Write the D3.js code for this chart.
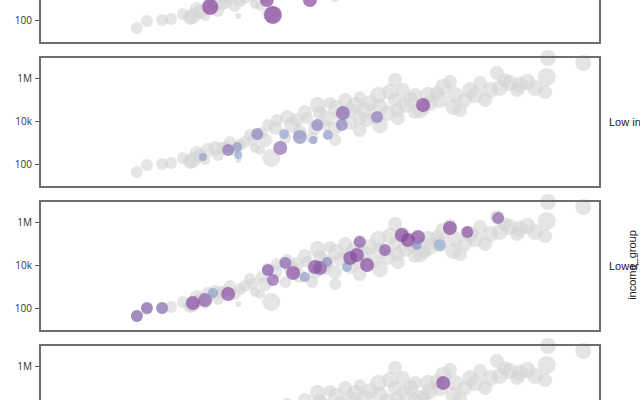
<!DOCTYPE html>
<html>
<head>
<meta charset="utf-8">
<script src="https://cdn.jsdelivr.net/npm/d3@7"></script>
<style>
  body { margin: 0; background: #fff; }
  svg { display: block; }
</style>
</head>
<body>
<div id="chart"></div>
<script>
// facet names (one panel per income group)
var groups = ["High income", "Low income", "Lower middle income", "Upper middle income"];

// all countries, drawn grey in every panel
var greyX = [17.3, 19.1, 21.8, 23.4, 27.3, 28.0, 28.6, 30.0, 31.3, 32.5, 33.2, 35.4, 36.6, 38.0, 39.6, 40.7, 41.3,
             42.3, 44.1, 45.9, 47.7, 50.0, 51.8, 53.6, 55.4, 55.4, 57.1, 58.4, 58.9, 60.7, 62.0, 63.8, 64.8, 66.1,
             67.9, 69.6, 70.9, 72.0, 73.2, 73.8, 75.0, 76.8, 78.6, 80.4, 81.6, 83.0, 83.9, 85.2, 87.0, 90.5, 90.7,
             97.0, 43.8, 46.4, 49.1, 50.9, 52.7, 57.1, 59.8, 63.4, 67.0, 68.8, 38.4, 34.8, 26.8, 29.5,
             40.2, 42.0, 45.0, 47.3, 49.6, 51.1, 52.9, 54.5, 56.3, 58.0, 60.4, 62.5, 63.9, 65.2, 67.0, 69.3,
             71.4, 74.1, 75.9, 77.7, 79.5, 82.1, 85.7, 88.4, 90.2, 37.5, 35.7, 33.9, 31.8, 25.5, 63.4, 60.7,
             57.1, 52.7, 48.6, 39.3];
var greyY = [42, 90, 100, 111, 153, 325, 236, 448, 555, 555, 618, 153, 1050, 1300, 2770, 6520, 190,
             11100, 15300, 11100, 13800, 23500, 68700, 19000, 32500, 8070, 131000, 11100, 68700, 44800, 23500, 32500, 277000, 94800,
             32500, 68700, 200000, 381000, 652000, 44800, 32500, 277000, 585000, 277000, 1710000, 807000, 585000, 277000, 652000, 1110000, 8510000,
             4990000, 1620, 3080, 4720, 6520, 4720, 13800, 13800, 94800, 162000, 40200, 555, 448, 124, 153,
             1300, 4720, 6520, 26300, 55500, 13800, 40200, 94800, 55500, 32500, 162000, 223000, 13800, 55500, 26300, 162000,
             94800, 162000, 94800, 162000, 94800, 343000, 472000, 343000, 223000, 2230, 766, 1050, 262, 190, 807000, 6520,
             3810, 1300, 1620, 448];
var greySize = [36, 36, 36, 36, 64, 49, 49, 49, 49, 36, 36, 9, 36, 36, 36, 36, 81,
                36, 49, 49, 36, 49, 36, 49, 49, 49, 36, 49, 64, 64, 64, 49, 49, 64,
                64, 64, 49, 64, 49, 64, 49, 64, 49, 64, 49, 49, 64, 49, 64, 81, 64,
                64, 36, 49, 49, 36, 49, 49, 36, 49, 49, 36, 25, 36, 49, 25,
                49, 49, 64, 49, 64, 64, 64, 49, 64, 64, 64, 64, 49, 64, 49, 64,
                64, 64, 49, 64, 49, 64, 64, 64, 49, 36, 36, 36, 36, 36, 49, 64,
                49, 36, 36, 25];

// highlighted countries per group
var highX = [30.4, 41.6, 40.5, 48.2];
var highY = [403, 171, 851, 851];
var highSize = [64, 81, 49, 49];
var highShade = [85, 85, 80, 80];

var lowX = [33.6, 35.2, 29.1, 35.4, 38.8, 42.9, 43.6, 46.4, 48.8, 49.5, 51.4, 53.9, 54.1, 60.2, 68.4];
var lowY = [448, 618, 212, 262, 2480, 555, 2480, 1800, 1300, 6520, 2230, 6520, 23500, 15300, 55500];
var lowSize = [36, 25, 16, 16, 36, 49, 25, 49, 16, 36, 25, 36, 49, 36, 49];
var lowShade = [55, 25, 20, 15, 40, 55, 15, 35, 20, 40, 25, 40, 60, 45, 80];

var lowerX = [17.3, 19.1, 21.8, 27.3, 29.5, 30.9, 33.6, 40.7, 41.6, 43.8, 45.2, 47.3, 49.1, 50.0, 51.3,
              54.8, 55.4, 56.6, 57.1, 58.4, 61.6, 64.6, 65.7, 67.5, 67.3, 71.4, 73.2, 76.3, 81.8];
var lowerY = [42, 100, 100, 171, 236, 499, 448, 5850, 2000, 12400, 4250, 2770, 8070, 7240, 13800,
              8070, 21200, 29200, 117000, 10000, 49900, 248000, 146000, 200000, 85100, 85100, 526000, 343000, 1530000];
var lowerSize = [36, 36, 36, 49, 49, 25, 49, 36, 36, 36, 49, 25, 49, 49, 25,
                 25, 49, 49, 36, 49, 36, 49, 49, 49, 25, 36, 49, 36, 36];
var lowerShade = [60, 60, 50, 75, 65, 20, 75, 70, 65, 60, 75, 20, 75, 70, 35,
                  15, 80, 75, 65, 75, 70, 80, 80, 75, 35, 10, 80, 75, 60];

var upperX = [72.0];
var upperY = [162000];
var upperSize = [49];
var upperShade = [80];

var highlight = [
    {x: highX, y: highY, size: highSize, shade: highShade},
    {x: lowX, y: lowY, size: lowSize, shade: lowShade},
    {x: lowerX, y: lowerY, size: lowerSize, shade: lowerShade},
    {x: upperX, y: upperY, size: upperSize, shade: upperShade}
];

var width = 640;
var height = 400;
var panelLeft = 40;
var panelRight = 600;
var panelHeight = 130;
var panelGap = 14;
var firstTop = -87;

var svg = d3.select("#chart")
    .append("svg")
    .attr("width", width)
    .attr("height", height);

var x = d3.scaleLinear()
    .domain([0, 100])
    .range([panelLeft, panelRight]);

var y = d3.scaleLog()
    .domain([8.51, 9.48e6])
    .range([panelHeight, 0]);

var r = d3.scaleSqrt()
    .domain([0, 100])
    .range([0, 10]);

var shadeScale = d3.scaleSequential(d3.interpolateBuPu)
    .domain([-89, 143]);

var tickFormat = function (d) {
    if (d >= 1e6) return (d / 1e6) + "M";
    if (d >= 1e3) return (d / 1e3) + "k";
    return d;
};

var greyData = greyX.map(function (v, i) {
    return {x: v, y: greyY[i], size: greySize[i]};
});

groups.forEach(function (name, gi) {
    var top = firstTop + gi * (panelHeight + panelGap);
    var g = svg.append("g")
        .attr("transform", "translate(0," + top + ")");

    // y axis with log ticks 100, 10k, 1M
    var axis = d3.axisLeft(y)
        .tickValues([100, 1e4, 1e6])
        .tickFormat(tickFormat)
        .tickSize(5)
        .tickPadding(3);

    var ax = g.append("g")
        .attr("transform", "translate(" + panelLeft + ",0)")
        .call(axis);
    ax.select(".domain").remove();
    ax.selectAll("line").attr("stroke", "#555");
    ax.selectAll("text")
        .attr("fill", "#333")
        .style("font-family", "'Open Sans', sans-serif")
        .style("font-size", "10px");

    // grey background points (every country)
    g.append("g")
        .selectAll("circle")
        .data(greyData)
        .enter()
        .append("circle")
        .attr("cx", function (d) { return x(d.x); })
        .attr("cy", function (d) { return y(d.y); })
        .attr("r", function (d) { return r(d.size); })
        .attr("fill", "#d3d3d3")
        .attr("fill-opacity", 0.6);

    // coloured points of this group
    var h = highlight[gi];
    var hData = h.x.map(function (v, i) {
        return {x: v, y: h.y[i], size: h.size[i], shade: h.shade[i]};
    });
    g.append("g")
        .selectAll("circle")
        .data(hData)
        .enter()
        .append("circle")
        .attr("cx", function (d) { return x(d.x); })
        .attr("cy", function (d) { return y(d.y); })
        .attr("r", function (d) { return r(d.size); })
        .attr("fill", function (d) { return shadeScale(d.shade); })
        .attr("fill-opacity", 0.7);

    // panel frame
    g.append("rect")
        .attr("x", panelLeft)
        .attr("y", 0)
        .attr("width", panelRight - panelLeft)
        .attr("height", panelHeight)
        .attr("fill", "none")
        .attr("stroke", "#6e6e6e")
        .attr("stroke-width", 2);

    // strip label on the right
    g.append("text")
        .attr("x", 609)
        .attr("y", panelHeight / 2)
        .attr("dy", "0.35em")
        .attr("fill", "#1a1a1a")
        .style("font-family", "'Liberation Sans', Arial, sans-serif")
        .style("font-size", "11px")
        .text(name);
});

svg.append("text")
    .attr("transform", "translate(636,265) rotate(-90)")
    .attr("text-anchor", "middle")
    .attr("fill", "#1a1a1a")
    .style("font-family", "'Liberation Sans', Arial, sans-serif")
    .style("font-size", "11px")
    .text("income_group");
</script>
</body>
</html>
